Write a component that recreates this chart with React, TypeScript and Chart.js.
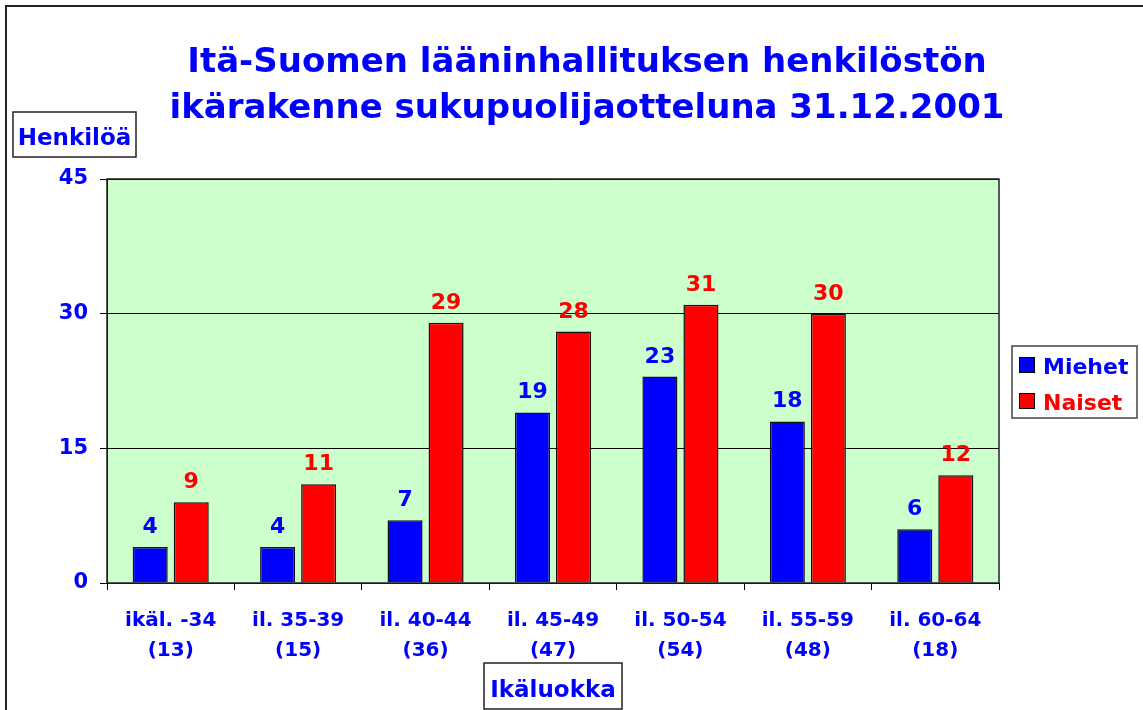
import { useEffect, useRef } from "react";
import { Chart, registerables } from "chart.js";

Chart.register(...registerables);

const categories: string[][] = [
  ["ikäl. -34", "(13)"],
  ["il. 35-39", "(15)"],
  ["il. 40-44", "(36)"],
  ["il. 45-49", "(47)"],
  ["il. 50-54", "(54)"],
  ["il. 55-59", "(48)"],
  ["il. 60-64", "(18)"],
];
const miehet = [4, 4, 7, 19, 23, 18, 6];
const naiset = [9, 11, 29, 28, 31, 30, 12];
const seriesNames = ["Miehet", "Naiset"];
const titleLines = [
  "Itä-Suomen lääninhallituksen henkilöstön",
  "ikärakenne sukupuolijaotteluna 31.12.2001",
];
const yAxisTitle = "Henkilöä";
const xAxisTitle = "Ikäluokka";

const FONT = "'DejaVu Sans', Verdana, sans-serif";
const BLUE = "#0000FF";
const RED = "#FF0000";
const GREEN = "#CCFFCC";
const colors = [BLUE, RED];

const decorPlugin = {
  id: "decor",
  beforeDraw(chart: any) {
    const { ctx, chartArea } = chart;
    ctx.save();
    ctx.fillStyle = "#FFFFFF";
    ctx.fillRect(0, 0, chart.width, chart.height);
    ctx.fillStyle = GREEN;
    ctx.fillRect(chartArea.left, chartArea.top, chartArea.right - chartArea.left, chartArea.bottom - chartArea.top);
    ctx.restore();
  },
  afterDatasetsDraw(chart: any) {
    const { ctx, chartArea } = chart;
    ctx.save();
    // plot border
    ctx.strokeStyle = "#222";
    ctx.lineWidth = 1.5;
    ctx.strokeRect(chartArea.left, chartArea.top, chartArea.right - chartArea.left, chartArea.bottom - chartArea.top);
    // data labels
    ctx.font = `bold 22px ${FONT}`;
    ctx.textAlign = "center";
    ctx.textBaseline = "alphabetic";
    chart.data.datasets.forEach((ds: any, i: number) => {
      const meta = chart.getDatasetMeta(i);
      ctx.fillStyle = colors[i];
      meta.data.forEach((el: any, j: number) => {
        ctx.fillText(String(ds.data[j]), el.x, el.y - 14);
      });
    });
    ctx.restore();
  },
  afterDraw(chart: any) {
    const { ctx, chartArea } = chart;
    ctx.save();
    // outer border
    ctx.strokeStyle = "#222";
    ctx.lineWidth = 2;
    ctx.beginPath();
    ctx.moveTo(6, chart.height);
    ctx.lineTo(6, 6);
    ctx.lineTo(chart.width, 6);
    ctx.stroke();
    // title
    ctx.fillStyle = BLUE;
    ctx.textAlign = "center";
    ctx.textBaseline = "alphabetic";
    ctx.font = `bold 34px ${FONT}`;
    ctx.fillText(titleLines[0], 587, 72);
    ctx.fillText(titleLines[1], 587, 118);
    // y axis title box
    ctx.font = `bold 23px ${FONT}`;
    ctx.lineWidth = 1.5;
    ctx.strokeStyle = "#222";
    ctx.strokeRect(13, 112, 123, 45);
    ctx.fillText(yAxisTitle, 74.5, 145);
    // x axis title box
    const cx = (chartArea.left + chartArea.right) / 2;
    ctx.strokeRect(484, 663, 138, 46);
    ctx.fillText(xAxisTitle, cx, 697);
    // legend
    ctx.strokeStyle = "#444";
    ctx.strokeRect(1012, 346, 125, 72);
    ctx.textAlign = "left";
    ctx.font = `bold 22px ${FONT}`;
    seriesNames.forEach((name, i) => {
      const y = 357 + i * 36;
      ctx.fillStyle = colors[i];
      ctx.fillRect(1019, y, 16, 16);
      ctx.strokeStyle = "#000";
      ctx.lineWidth = 1;
      ctx.strokeRect(1019.5, y + 0.5, 15, 15);
      ctx.fillStyle = colors[i];
      ctx.fillText(name, 1043, y + 17);
    });
    ctx.restore();
  },
};

export default function App() {
  const ref = useRef<HTMLCanvasElement | null>(null);
  useEffect(() => {
    if (!ref.current) return;
    const chart = new Chart(ref.current, {
      type: "bar",
      data: {
        labels: categories as any,
        datasets: [
          {
            label: seriesNames[0],
            data: miehet,
            backgroundColor: BLUE,
            borderColor: "#111",
            borderWidth: 1.5,
            categoryPercentage: 0.644,
            barPercentage: 0.854,
          },
          {
            label: seriesNames[1],
            data: naiset,
            backgroundColor: RED,
            borderColor: "#111",
            borderWidth: 1.5,
            categoryPercentage: 0.644,
            barPercentage: 0.854,
          },
        ],
      },
      options: {
        animation: false,
        responsive: true,
        maintainAspectRatio: false,
        layout: { padding: { top: 179, right: 144, left: 0, bottom: 0 } },
        plugins: {
          legend: { display: false },
          title: { display: false },
          tooltip: { enabled: false },
        },
        scales: {
          x: {
            grid: { offset: true, drawOnChartArea: false, drawTicks: true, tickLength: 7, color: "#000" },
            border: { color: "#000", width: 1 },
            ticks: {
              color: BLUE,
              font: { family: FONT, size: 20, weight: "bold", lineHeight: 1.5 },
              padding: 16,
              maxRotation: 0,
              autoSkip: false,
            },
            afterFit: (s: any) => {
              s.height = 127;
            },
          },
          y: {
            min: 0,
            max: 45,
            ticks: {
              stepSize: 15,
              color: BLUE,
              font: { family: FONT, size: 21, weight: "bold" },
              padding: 12,
            },
            grid: { color: "#000", tickLength: 7 },
            border: { color: "#000", width: 1 },
            afterFit: (s: any) => {
              s.width = 107;
            },
          },
        },
      },
      plugins: [decorPlugin],
    } as any);
    return () => chart.destroy();
  }, []);
  return (
    <div style={{ position: "fixed", left: 0, top: 0, width: 1143, height: 710 }}>
      <canvas ref={ref} />
    </div>
  );
}
